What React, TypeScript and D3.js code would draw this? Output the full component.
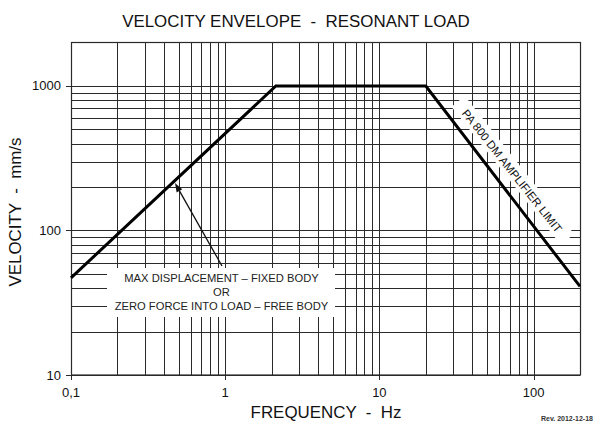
import * as d3 from "d3"

const xMajor = [0.1, 1, 10, 100]
const xMajorLabels = ["0,1", "1", "10", "100"]
const yMajor = [10, 100, 1000]
const yMajorLabels = ["10", "100", "1000"]

// envelope corner points
const envFreq = [0.1, 2.13, 20, 200]
const envVel = [47, 1000, 1000, 41]

const noteLines = [
  "MAX DISPLACEMENT \u2013 FIXED BODY",
  "OR",
  "ZERO FORCE INTO LOAD \u2013 FREE BODY",
]
const limitLabel = "PA 800 DM AMPLIFIER LIMIT"

const W = 595
const H = 427
const m = { left: 71, right: 580, top: 42.5, bottom: 375 }
const font = "'Liberation Sans', Arial, sans-serif"
const gridColor = "#2a2a2a"
const pre = { whiteSpace: "pre" as const }

const App = () => {
  const x = d3.scaleLog().domain([0.1, 200]).range([m.left, m.right])
  const y = d3.scaleLog().domain([10, 2000]).range([m.bottom, m.top])

  const xGrid: number[] = []
  for (const d of [0.1, 1, 10]) for (let k = 1; k < 10; k++) xGrid.push(d * k)
  xGrid.push(100)
  const yGrid: number[] = []
  for (const d of [10, 100]) for (let k = 1; k < 10; k++) yGrid.push(d * k)
  yGrid.push(1000)

  const line = d3
    .line<number>()
    .x((_, i) => x(envFreq[i]))
    .y((d) => y(d))

  // note box
  const box = { x0: 107, x1: 335, y0: 268, y1: 317 }
  const noteCx = (box.x0 + box.x1) / 2 + 0.5

  // arrow toward the rising line
  const arrowFrom = [222, 266]
  const arrowTo = [175, 183]
  const ang = Math.atan2(arrowTo[1] - arrowFrom[1], arrowTo[0] - arrowFrom[0])
  const ah = 9
  const aw = 3.2
  const headBase = [arrowTo[0] - ah * Math.cos(ang), arrowTo[1] - ah * Math.sin(ang)]
  const head = [
    arrowTo,
    [headBase[0] + aw * Math.sin(ang), headBase[1] - aw * Math.cos(ang)],
    [headBase[0] - aw * Math.sin(ang), headBase[1] + aw * Math.cos(ang)],
  ]

  // label along the falling line
  const p1 = [x(envFreq[2]), y(envVel[2])]
  const p2 = [x(envFreq[3]), y(envVel[3])]
  const limAngle = (Math.atan2(p2[1] - p1[1], p2[0] - p1[0]) * 180) / Math.PI
  const labC = [512, 171]

  return (
    <div style={{ position: "absolute", left: 0, top: 0 }}>
      <svg width={W} height={H} style={{ display: "block", background: "#fff" }}>
        <text
          x={296}
          y={26.5}
          textAnchor="middle"
          fontFamily={font}
          fontSize={16.9}
          fill="#111"
          style={pre}
        >
          {"VELOCITY ENVELOPE  -  RESONANT LOAD"}
        </text>

        {/* grid */}
        <g stroke={gridColor} strokeWidth={1}>
          {xGrid.map((v) => (
            <line
              key={"x" + v}
              x1={Math.round(x(v)) + 0.5}
              x2={Math.round(x(v)) + 0.5}
              y1={m.top}
              y2={m.bottom + (xMajor.includes(v) ? 5 : 0)}
            />
          ))}
          {yGrid.map((v) => (
            <line
              key={"y" + v}
              y1={Math.round(y(v)) + 0.5}
              y2={Math.round(y(v)) + 0.5}
              x1={m.left - (yMajor.includes(v) ? 5 : 0)}
              x2={m.right}
            />
          ))}
        </g>
        <rect
          x={m.left + 0.5}
          y={m.top}
          width={m.right - m.left}
          height={m.bottom - m.top}
          fill="none"
          stroke={gridColor}
          strokeWidth={1.2}
        />

        {/* note box masking */}
        <rect x={box.x0} y={box.y0} width={box.x1 - box.x0} height={box.y1 - box.y0} fill="#fff" />
        {noteLines.map((t, i) => (
          <text
            key={t}
            x={noteCx}
            y={282 + i * 14.2}
            textAnchor="middle"
            fontFamily={font}
            fontSize={11.2}
            fill="#222"
          >
            {t}
          </text>
        ))}

        {/* limit label */}
        <g transform={`translate(${labC[0]},${labC[1]}) rotate(${limAngle - 0.8})`}>
          <rect x={-88} y={-9.5} width={176} height={17} fill="#fff" />
          <text
            x={0}
            y={4}
            textAnchor="middle"
            fontFamily={font}
            fontSize={11.5}
            fill="#111"
          >
            {limitLabel}
          </text>
        </g>

        {/* envelope */}
        <path
          d={line(envVel) || ""}
          fill="none"
          stroke="#000"
          strokeWidth={3}
          strokeLinejoin="miter"
        />

        {/* arrow */}
        <line
          x1={arrowFrom[0]}
          y1={arrowFrom[1]}
          x2={headBase[0]}
          y2={headBase[1]}
          stroke="#111"
          strokeWidth={1.3}
        />
        <polygon points={head.map((p) => p.join(",")).join(" ")} fill="#111" />

        {/* tick labels */}
        {yMajor.map((v, i) => (
          <text
            key={"yl" + v}
            x={61}
            y={y(v) + 4.5}
            textAnchor="end"
            fontFamily={font}
            fontSize={13}
            fill="#111"
          >
            {yMajorLabels[i]}
          </text>
        ))}
        {xMajor.map((v, i) => (
          <text
            key={"xl" + v}
            x={x(v)}
            y={397}
            textAnchor="middle"
            fontFamily={font}
            fontSize={13}
            fill="#111"
          >
            {xMajorLabels[i]}
          </text>
        ))}

        {/* axis titles */}
        <text
          x={326}
          y={418}
          textAnchor="middle"
          fontFamily={font}
          fontSize={16.9}
          fill="#111"
          style={pre}
        >
          {"FREQUENCY  -  Hz"}
        </text>
        <text
          transform="translate(20.5,212) rotate(-90)"
          textAnchor="middle"
          fontFamily={font}
          fontSize={16.9}
          fill="#111"
          style={pre}
        >
          {"VELOCITY  -  mm/s"}
        </text>

        <text
          x={593}
          y={421}
          textAnchor="end"
          fontFamily={font}
          fontSize={7}
          fontWeight="bold"
          fill="#333"
        >
          Rev. 2012-12-18
        </text>
      </svg>
    </div>
  )
}

export default App
